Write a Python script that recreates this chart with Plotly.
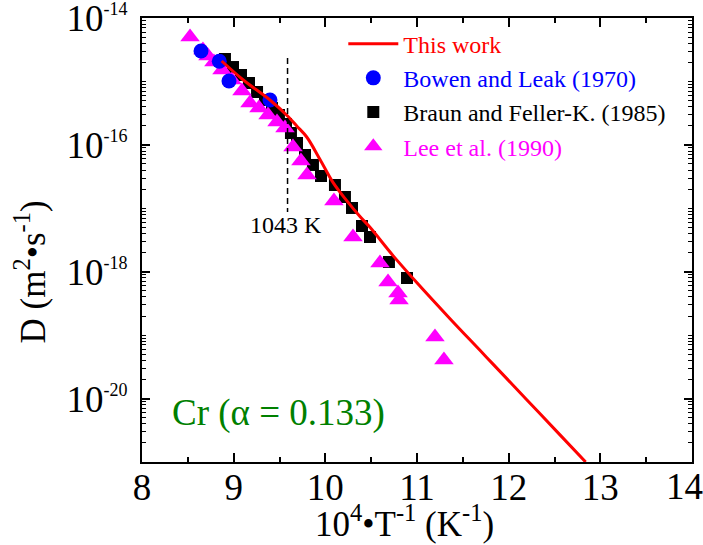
import numpy as np
import plotly.graph_objects as go

# Diffusivity of Cr: x = 10^4/T (K^-1), values stored as log10(D / m^2 s^-1)
model_x = [8.869, 9.105, 9.396, 9.596, 9.688, 9.797, 9.942, 10.087, 10.233, 10.378,
           10.487, 10.741, 10.997, 11.360, 11.687, 11.832, 12.197, 12.560, 12.840]
model_logd = [-14.678, -14.977, -15.293, -15.556, -15.703, -15.876, -16.230, -16.600,
              -16.880, -17.130, -17.300, -17.750, -18.170, -18.740, -19.239, -19.461,
              -20.018, -20.572, -21.000]

bowen_x = [8.644, 8.843, 8.949, 9.396]
bowen_logd = [-14.520, -14.683, -14.993, -15.293]

braun_x = [8.905, 8.993, 9.080, 9.167, 9.255, 9.342, 9.418, 9.494, 9.571, 9.625, 9.691,
           9.778, 9.865, 9.953, 10.105, 10.214, 10.291, 10.400, 10.487, 10.694, 10.891]
braun_logd = [-14.646, -14.773, -14.899, -15.025, -15.167, -15.293, -15.419, -15.529,
              -15.671, -15.813, -15.971, -16.160, -16.317, -16.491, -16.633, -16.822,
              -16.995, -17.279, -17.453, -17.847, -18.099]

lee_x = [8.524, 8.665, 8.720, 8.785, 8.873, 8.982, 9.091, 9.178, 9.276, 9.375, 9.473,
         9.560, 9.647, 9.734, 9.800, 10.094, 10.302, 10.596, 10.684, 10.793, 10.804,
         11.196, 11.294]
lee_logd = [-14.300, -14.504, -14.599, -14.694, -14.820, -14.977, -15.151, -15.340,
            -15.419, -15.529, -15.640, -15.734, -16.034, -16.254, -16.475, -16.885,
            -17.453, -17.863, -18.162, -18.336, -18.446, -19.029, -19.392]

# Curie temperature marker (1043 K)
curie_T = 1043
curie_logd = [-14.63, -17.06]

x_ticks = [8, 9, 10, 11, 12, 13]
x_last = 14
y_labeled = [-14, -16, -18, -20]
y_odd = [-15, -17, -19]

FONT = "Liberation Serif, Times New Roman, serif"
TICK_SIZE = 37


def dvals(logs):
    return [10.0 ** v for v in logs]


fig = go.Figure()

fig.add_trace(go.Scatter(
    x=braun_x, y=dvals(braun_logd), mode="markers",
    name="<span style='color:#000000'>Braun and Feller-K. (1985)</span>",
    marker=dict(symbol="square", size=12, color="#000000"), legendrank=3))

fig.add_trace(go.Scatter(
    x=lee_x, y=dvals(lee_logd), mode="markers",
    name="<span style='color:#ff00ff'>Lee et al. (1990)</span>",
    marker=dict(symbol="triangle-up", size=17, color="#ff00ff"), legendrank=4))

fig.add_trace(go.Scatter(
    x=bowen_x, y=dvals(bowen_logd), mode="markers",
    name="<span style='color:#0000ff'>Bowen and Leak (1970)</span>",
    marker=dict(symbol="circle", size=15, color="#0000ff"), legendrank=2))

fig.add_trace(go.Scatter(
    x=model_x, y=dvals(model_logd), mode="lines",
    name="<span style='color:#ff0000'>This work</span>",
    line=dict(color="#ff0000", width=3, shape="spline", smoothing=1.0), legendrank=1))

curie_x = 1e4 / curie_T
fig.add_trace(go.Scatter(
    x=[curie_x, curie_x], y=dvals(curie_logd), mode="lines", showlegend=False,
    line=dict(color="#000000", width=1.5, dash="6px,4px"), hoverinfo="skip"))

fig.add_annotation(x=curie_x - 0.02, y=-17.26, text=f"{curie_T} K", showarrow=False,
                   xanchor="center", yanchor="middle",
                   font=dict(family=FONT, size=24, color="#000000"))

fig.add_annotation(x=8.305, y=-20.23, text="Cr (α = 0.133)", showarrow=False,
                   xanchor="left", yanchor="middle",
                   font=dict(family=FONT, size=37, color="#008000"))

# last x tick label, pulled inside the page edge
fig.add_annotation(x=x_last, xref="x", y=0, yref="paper", text=str(x_last),
                   showarrow=False, xanchor="center", yanchor="top",
                   xshift=-8, yshift=-2,
                   font=dict(family=FONT, size=TICK_SIZE, color="#000000"))

# axis titles
fig.add_annotation(x=-0.202, y=0.429, xref="paper", yref="paper",
                   text="D (m<sup>2</sup>•s<sup>-1</sup>)", textangle=-90,
                   showarrow=False, xanchor="center", yanchor="middle",
                   font=dict(family=FONT, size=35, color="#000000"))
fig.add_annotation(x=0.478, y=-0.133, xref="paper", yref="paper",
                   text="10<sup>4</sup>•T<sup>-1</sup> (K<sup>-1</sup>)",
                   showarrow=False, xanchor="center", yanchor="middle",
                   font=dict(family=FONT, size=35, color="#000000"))

axis_common = dict(
    showline=True, linecolor="#000000", linewidth=2, mirror="ticks",
    ticks="inside", tickcolor="#000000", tickwidth=1.5,
    showgrid=False, zeroline=False, automargin=False,
    tickfont=dict(family=FONT, size=TICK_SIZE, color="#000000"),
)

fig.update_xaxes(
    **axis_common, range=[8, 14], tickvals=x_ticks, ticklen=9,
    ticklabelstandoff=-8,
    minor=dict(tickvals=[8.5, 9.5, 10.5, 11.5, 12.5, 13.5], ticks="inside", ticklen=5,
               tickcolor="#000000", tickwidth=1.5),
)

minor_y = [m * 10.0 ** d for d in range(-21, -14) for m in range(2, 10)]
minor_y += [10.0 ** d for d in y_odd]
fig.update_yaxes(
    **axis_common, type="log", range=[-21, -14], ticklen=8,
    ticklabelstandoff=5, ticklabeloverflow="allow",
    tickvals=[10.0 ** d for d in y_labeled],
    ticktext=[f"10<sup><span style='font-size:18px'>{d}</span></sup>" for d in y_labeled],
    minor=dict(tickvals=minor_y, ticks="inside", ticklen=4, tickcolor="#000000", tickwidth=1),
)

fig.update_layout(
    width=703, height=545,
    margin=dict(l=142, r=11, t=18, b=83),
    paper_bgcolor="#ffffff", plot_bgcolor="#ffffff",
    showlegend=True,
    legend=dict(x=0.366, y=0.992, xanchor="left", yanchor="top",
                bgcolor="rgba(0,0,0,0)", borderwidth=0,
                font=dict(family=FONT, size=24, color="#000000"),
                itemwidth=50, tracegroupgap=0),
)

fig.write_html("out.html")
